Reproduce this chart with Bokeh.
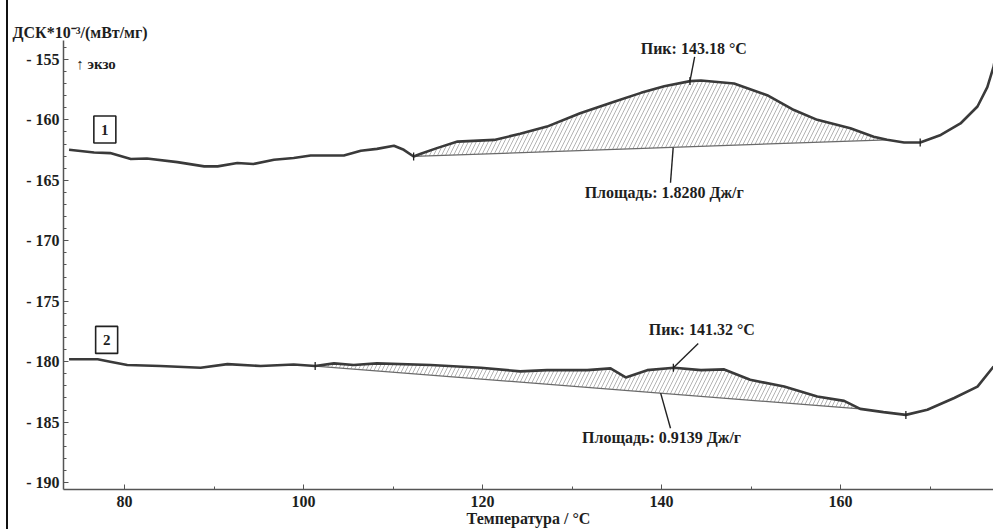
import numpy as np
from bokeh.plotting import figure
from bokeh.models import Range1d, SingleIntervalTicker, CustomJSTickFormatter, Label
from bokeh.embed import file_html
from bokeh.resources import INLINE

# ---- data ----
t1 = [73.8, 76.6, 78.4, 80.7, 82.5, 85.9, 88.9, 90.4, 92.6, 94.4, 96.7, 98.9, 100.8,
      104.5, 106.4, 108.2, 110.1, 111.2, 112.3, 113.1, 114.9, 117.2, 121.3, 124.2,
      127.2, 130.9, 134.7, 137.7, 140.3, 143.2, 144.4, 148.1, 151.8, 154.8, 157.4,
      161.1, 163.7, 165.2, 167.1, 168.9, 171.2, 173.4, 175.3, 176.4, 177.1, 177.6]
v1 = [-162.48, -162.7, -162.75, -163.24, -163.2, -163.5, -163.85, -163.85, -163.57,
      -163.65, -163.3, -163.16, -162.95, -162.95, -162.56, -162.4, -162.15, -162.48,
      -163.03, -162.8, -162.34, -161.8, -161.66, -161.16, -160.56, -159.46, -158.5,
      -157.77, -157.22, -156.8, -156.75, -157.0, -157.96, -159.19, -160.0, -160.7,
      -161.4, -161.65, -161.87, -161.87, -161.25, -160.3, -158.9, -157.3, -155.6, -153.5]

t2 = [73.8, 77.0, 78.4, 80.3, 84.0, 88.5, 91.5, 95.2, 98.9, 101.3, 103.4, 105.6, 108.2,
      114.2, 119.8, 124.2, 127.2, 131.7, 134.3, 136.0, 138.4, 141.4, 144.4, 147.0,
      149.9, 153.7, 157.4, 160.4, 162.2, 164.8, 167.3, 169.7, 172.7, 175.3, 177.1]
v2 = [-179.8, -179.8, -180.0, -180.28, -180.36, -180.5, -180.2, -180.36, -180.23,
      -180.36, -180.14, -180.28, -180.14, -180.28, -180.5, -180.8, -180.7, -180.7,
      -180.55, -181.3, -180.7, -180.5, -180.7, -180.64, -181.5, -182.06, -182.88,
      -183.24, -183.9, -184.17, -184.4, -183.98, -183.0, -182.06, -180.4]

base1_t = [112.3, 165.2]
base1_v = [-163.03, -161.65]
base2_t = [101.3, 162.2]
base2_v = [-180.36, -183.9]

marks1_t = [112.3, 168.9]
marks1_v = [-163.03, -161.87]
marks2_t = [101.3, 167.3]
marks2_v = [-180.36, -184.4]

peak1_t, peak1_v = 143.18, -156.78
peak2_t, peak2_v = 141.32, -180.5
peak1_text = "Пик: 143.18 °C"
peak2_text = "Пик: 141.32 °C"
area1_text = "Площадь: 1.8280 Дж/г"
area2_text = "Площадь: 0.9139 Дж/г"
y_caption = "ДСК*10⁻³/(мВт/мг)"
x_caption = "Температура / °C"

FONT = "Liberation Serif"
CURVE = "#3a3a3a"
TXT = "#1e1e1e"

p = figure(width=993, height=529, output_backend="svg", toolbar_location=None,
           x_range=Range1d(73.18, 177.09), y_range=Range1d(-190.57, -153.44),
           min_border_left=63, min_border_right=0, min_border_top=40, min_border_bottom=36,
           title=y_caption)
p.border_fill_color = None
p.styles = {"background": "linear-gradient(to right, #fff 0px, #fff 6px, #111 6px, #111 8px, #fff 8px)"}
p.background_fill_color = "white"
p.grid.visible = False
p.outline_line_color = None

p.title.align = "left"
p.title.offset = -51
p.title.standoff = 0
p.title.text_font = FONT
p.title.text_font_style = "bold"
p.title.text_font_size = "16px"
p.title.text_color = TXT

# axes
p.xaxis.ticker = SingleIntervalTicker(interval=20, num_minor_ticks=2)
p.yaxis.ticker = SingleIntervalTicker(interval=5, num_minor_ticks=5)
p.yaxis.formatter = CustomJSTickFormatter(code="return '- ' + Math.abs(tick).toFixed(0);")
for ax in (p.xaxis[0], p.yaxis[0]):
    ax.axis_line_color = "#555555"
    ax.axis_line_width = 1.5
    ax.major_tick_in = 5
    ax.major_tick_out = 0
    ax.minor_tick_in = 3
    ax.minor_tick_out = 0
    ax.major_tick_line_color = "#555555"
    ax.minor_tick_line_color = "#555555"
    ax.major_label_text_font = FONT
    ax.major_label_text_font_style = "bold"
    ax.major_label_text_font_size = "16px"
    ax.major_label_text_color = TXT
p.xaxis.axis_label = x_caption
p.xaxis.axis_label_text_font = FONT
p.xaxis.axis_label_text_font_style = "bold"
p.xaxis.axis_label_text_font_size = "16px"
p.xaxis.axis_label_text_color = TXT
p.xaxis.axis_label_standoff = 0
p.xaxis.major_label_standoff = 6
p.yaxis.major_label_standoff = 4

# hatched areas
def hatch_area(t, v, bt, bv):
    t = np.asarray(t); v = np.asarray(v)
    m = (t >= bt[0]) & (t <= bt[1])
    xs = np.concatenate([[bt[0]], t[m], [bt[1]]])
    top = np.concatenate([[bv[0]], v[m], [bv[1]]])
    bottom = np.interp(xs, bt, bv)
    p.varea(x=xs, y1=bottom, y2=top, fill_alpha=0, hatch_pattern="/",
            hatch_color="#a0a0a0", hatch_scale=8, hatch_weight=0.8)

hatch_area(t1, v1, base1_t, base1_v)
hatch_area(t2, v2, base2_t, base2_v)

p.line(base1_t, base1_v, line_color="#6a6a6a", line_width=1.3)
p.line(base2_t, base2_v, line_color="#6a6a6a", line_width=1.3)

p.line(t1, v1, line_color=CURVE, line_width=2.6)
p.line(t2, v2, line_color=CURVE, line_width=2.6)

p.scatter(marks1_t + marks2_t + [peak1_t, peak2_t], marks1_v + marks2_v + [peak1_v, peak2_v],
          marker="dash", angle=np.pi / 2, size=8, line_color="#222222", line_width=1.3)

# leader lines
p.segment(x0=[peak1_t, 141.3, peak2_t, 139.9], y0=[peak1_v, -162.3, peak2_v, -182.6],
          x1=[143.7, 141.0, 144.1, 141.0], y1=[-154.8, -165.2, -178.5, -185.5],
          line_color="#222222", line_width=1.4)

def lab(x, y, text, size="16px", align="center", xo=0, yo=0):
    p.add_layout(Label(x=x, y=y, text=text, text_font=FONT, text_font_style="bold",
                       text_font_size=size, text_align=align, text_baseline="middle",
                       text_color=TXT, x_offset=xo, y_offset=yo))

lab(143.6, -154.1, peak1_text)
lab(140.3, -166.0, area1_text)
lab(144.5, -177.3, peak2_text)
lab(140.0, -186.3, area2_text)

# sample boxes
p.rect(x=[77.8, 78.0], y=[-160.8, -178.2], width=22, height=27, width_units="screen",
       height_units="screen", fill_color=None, line_color="#222222", line_width=1.6)
lab(77.8, -160.8, "1", size="15px")
lab(78.0, -178.2, "2", size="15px")

# exo arrow
lab(74.6, -155.35, "↑ экзо", size="15px", align="left")

open("out.html", "w").write(file_html(p, INLINE))
